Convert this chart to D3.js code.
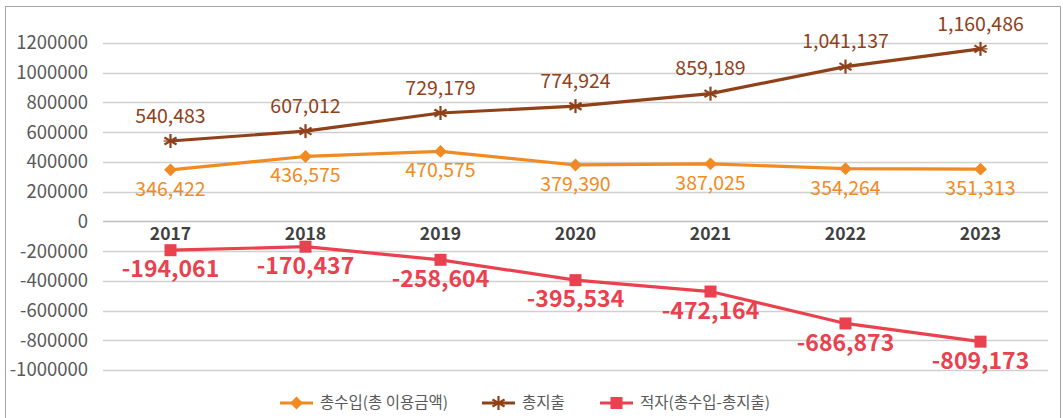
<!DOCTYPE html>
<html>
<head>
<meta charset="utf-8">
<style>
  body { margin: 0; background: white; font-family: "Noto Sans CJK KR", "Noto Sans", sans-serif; }
  svg text { font-family: "Noto Sans CJK KR", "Noto Sans", sans-serif; }
</style>
<script src="https://cdn.jsdelivr.net/npm/d3@7"></script>
</head>
<body>
<svg id="chart"></svg>
<script>
// data
const years = ["2017", "2018", "2019", "2020", "2021", "2022", "2023"];
const income = [346422, 436575, 470575, 379390, 387025, 354264, 351313];
const expense = [540483, 607012, 729179, 774924, 859189, 1041137, 1160486];
const deficit = [-194061, -170437, -258604, -395534, -472164, -686873, -809173];
const yTicks = [1200000, 1000000, 800000, 600000, 400000, 200000, 0, -200000, -400000, -600000, -800000, -1000000];
const legendNames = ["총수입(총 이용금액)", "총지출", "적자(총수입-총지출)"];

const W = 1063, H = 418;
const svg = d3.select("#chart").attr("width", W).attr("height", H);

// frame
svg.append("rect")
  .attr("x", 5.5).attr("y", 6.5)
  .attr("width", 1055).attr("height", 420)
  .attr("fill", "white").attr("stroke", "#a6a6a6");

const x = d3.scaleBand().domain(years).range([103, 1048]);
const y = d3.scaleLinear().domain([-1000000, 1200000]).range([370, 43]);
const cx = d => x(d) + x.bandwidth() / 2;

// grid
svg.append("g").selectAll("line").data(yTicks).enter().append("line")
  .attr("x1", 103).attr("x2", 1048)
  .attr("y1", d => Math.round(y(d)) + 0.5).attr("y2", d => Math.round(y(d)) + 0.5)
  .attr("stroke", d => d === 0 ? "#bfbfbf" : "#d0d0d0")
  .attr("stroke-width", 1.3);

// y axis labels
svg.append("g").selectAll("text").data(yTicks).enter().append("text")
  .attr("x", 88).attr("y", d => y(d))
  .attr("dy", "0.35em")
  .attr("text-anchor", "end")
  .attr("font-size", 18.5)
  .attr("fill", "#595959")
  .text(d => d);

// category labels
svg.append("g").selectAll("text").data(years).enter().append("text")
  .attr("x", d => cx(d)).attr("y", 234)
  .attr("dy", "0.35em")
  .attr("text-anchor", "middle")
  .attr("font-size", 17.5).attr("font-weight", "bold")
  .attr("fill", "#404040")
  .text(d => d);

const fmt = d3.formatLocale({ decimal: ".", thousands: ",", grouping: [3], currency: ["", ""], minus: "-" }).format(",");
const series = [
  { name: legendNames[0], values: income, color: "#f28a22", marker: "diamond" },
  { name: legendNames[1], values: expense, color: "#8f4119", marker: "star" },
  { name: legendNames[2], values: deficit, color: "#e9414e", marker: "square" }
];

const line = d3.line().x((d, i) => cx(years[i])).y(d => y(d));

function drawMarker(g, type, color, px, py) {
  if (type === "diamond") {
    g.append("path")
      .attr("d", d3.symbol(d3.symbolDiamond2, 105)())
      .attr("transform", `translate(${px},${py})`)
      .attr("fill", color);
  } else if (type === "square") {
    g.append("rect")
      .attr("x", px - 6).attr("y", py - 6)
      .attr("width", 12).attr("height", 12)
      .attr("fill", color);
  } else {
    const r = 7;
    const s = g.append("g").attr("transform", `translate(${px},${py})`)
      .attr("stroke", color).attr("stroke-width", 2.2);
    [0, 60, 120].forEach(a => {
      const t = (a + 90) * Math.PI / 180;
      s.append("line")
        .attr("x1", -r * Math.cos(t)).attr("y1", -r * Math.sin(t))
        .attr("x2", r * Math.cos(t)).attr("y2", r * Math.sin(t));
    });
    s.append("line").attr("x1", -r).attr("x2", r).attr("y1", 0).attr("y2", 0)
      .attr("stroke-width", 1.2);
  }
}

series.forEach(s => {
  svg.append("path").datum(s.values)
    .attr("d", line)
    .attr("fill", "none")
    .attr("stroke", s.color)
    .attr("stroke-width", 3.2)
    .attr("stroke-linejoin", "round");
  const g = svg.append("g");
  s.values.forEach((v, i) => drawMarker(g, s.marker, s.color, cx(years[i]), y(v)));
});

// data labels
svg.append("g").selectAll("text").data(expense).enter().append("text")
  .attr("x", (d, i) => cx(years[i])).attr("y", d => y(d) - 25)
  .attr("dy", "0.35em").attr("text-anchor", "middle")
  .attr("font-size", 19.5).attr("fill", "#8f4119")
  .text(d => fmt(d));

svg.append("g").selectAll("text").data(income).enter().append("text")
  .attr("x", (d, i) => cx(years[i])).attr("y", d => y(d) + 19)
  .attr("dy", "0.35em").attr("text-anchor", "middle")
  .attr("font-size", 19.5).attr("fill", "#f28a22")
  .text(d => fmt(d));

svg.append("g").selectAll("text").data(deficit).enter().append("text")
  .attr("x", (d, i) => cx(years[i])).attr("y", d => y(d) + 19)
  .attr("dy", "0.35em").attr("text-anchor", "middle")
  .attr("font-size", 23).attr("font-weight", "bold").attr("fill", "#e9414e")
  .text(d => fmt(d));

// legend
const legendX = [280, 482, 600];
const lg = svg.append("g");
series.forEach((s, i) => {
  const lx = legendX[i], ly = 403;
  lg.append("line").attr("x1", lx).attr("x2", lx + 33).attr("y1", ly).attr("y2", ly)
    .attr("stroke", s.color).attr("stroke-width", 3.2);
  drawMarker(lg, s.marker, s.color, lx + 16.5, ly);
  lg.append("text").attr("x", lx + 40).attr("y", ly).attr("dy", "0.35em")
    .attr("font-size", 15.5).attr("fill", "#595959").text(s.name);
});
</script>
</body>
</html>
